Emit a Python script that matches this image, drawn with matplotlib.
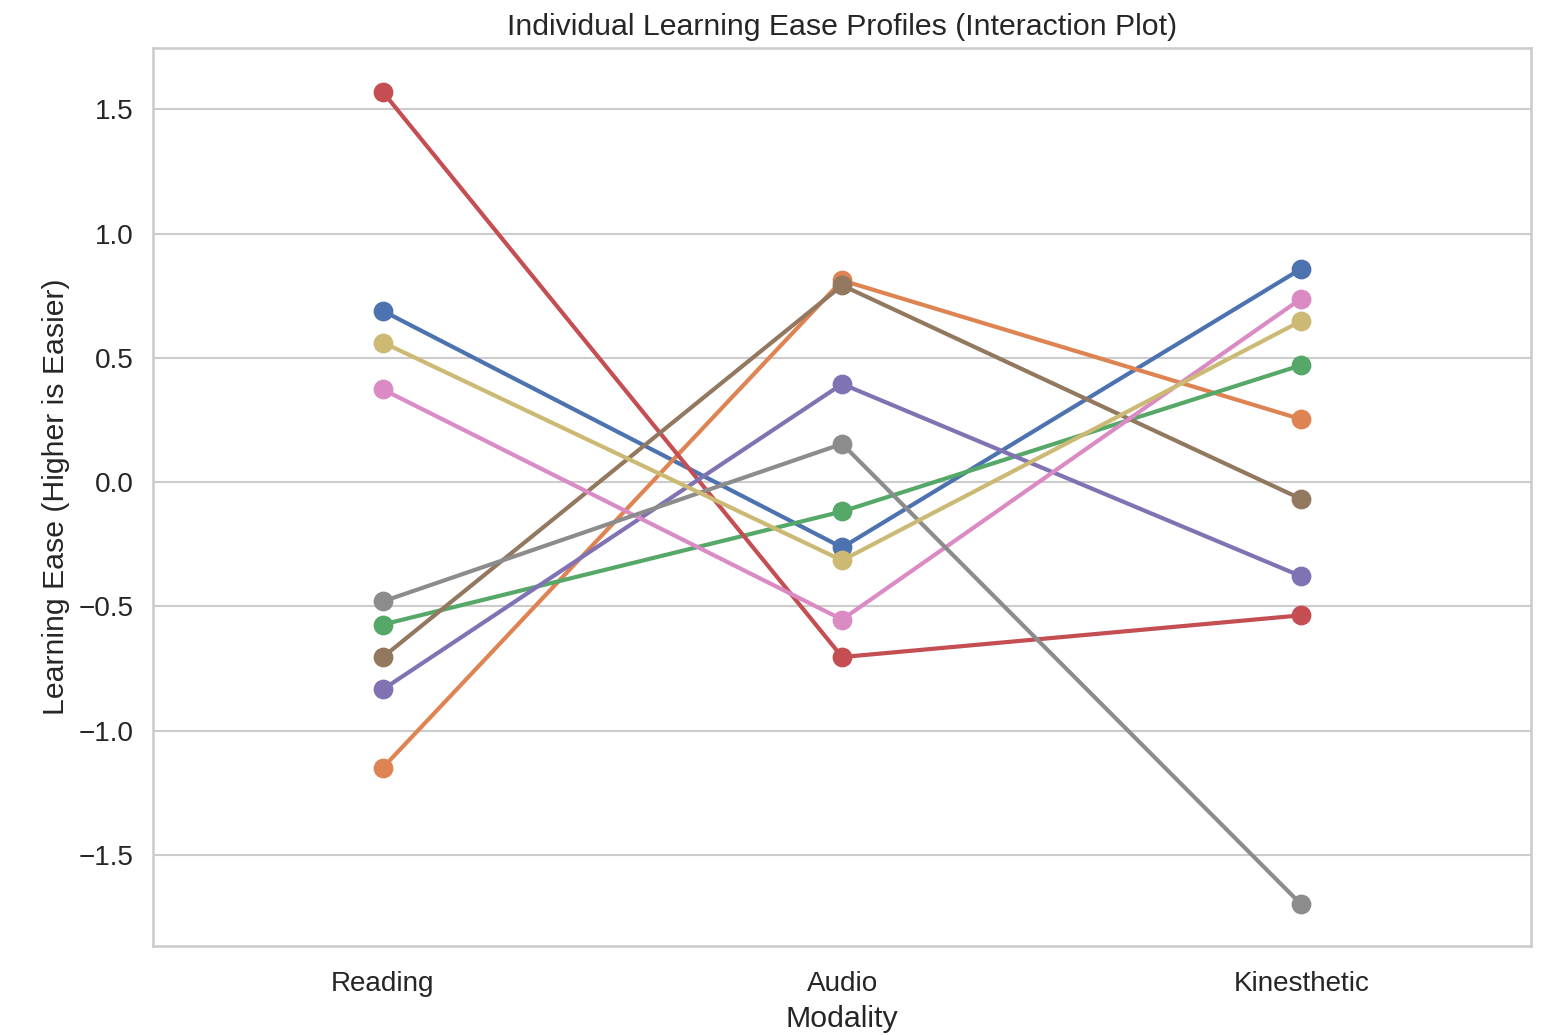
import numpy as np
import pandas as pd
import matplotlib
matplotlib.use("Agg")
import matplotlib.pyplot as plt
import seaborn as sns

# data
modalities = ["Reading", "Audio", "Kinesthetic"]
individuals = ["P1", "P2", "P3", "P4", "P5", "P6", "P7", "P8", "P9"]
p1 = [0.689, -0.263, 0.859]
p2 = [-1.149, 0.812, 0.253]
p3 = [-0.573, -0.118, 0.471]
p4 = [1.570, -0.704, -0.536]
p5 = [-0.834, 0.395, -0.379]
p6 = [-0.704, 0.792, -0.068]
p7 = [0.373, -0.553, 0.739]
p8 = [-0.480, 0.154, -1.700]
p9 = [0.562, -0.315, 0.649]

series = [p1, p2, p3, p4, p5, p6, p7, p8, p9]
rows = []
for name, vals in zip(individuals, series):
    for m, v in zip(modalities, vals):
        rows.append({"Individual": name, "Modality": m, "Ease": v})
df = pd.DataFrame(rows)

sns.set_theme(style="whitegrid")
plt.rcParams['font.family'] = ['Liberation Sans', 'DejaVu Sans']

fig, ax = plt.subplots(figsize=(10.33, 6.9), dpi=150)
sns.pointplot(data=df, x="Modality", y="Ease", hue="Individual",
              order=modalities, hue_order=individuals,
              palette="deep", legend=False, ax=ax,
              linewidth=2.0, markersize=8)

ax.set_title("Individual Learning Ease Profiles (Interaction Plot)", fontsize=14.5)
ax.set_xlabel("Modality", fontsize=14.5)
ax.set_ylabel("Learning Ease (Higher is Easier)", fontsize=14.5)
ax.tick_params(labelsize=13.4)
ax.tick_params(axis="x", pad=6)
ax.set_ylim(-1.867, 1.749)

fig.subplots_adjust(left=0.099, right=0.988, top=0.954, bottom=0.086)
fig.savefig("out.png", dpi=150)
